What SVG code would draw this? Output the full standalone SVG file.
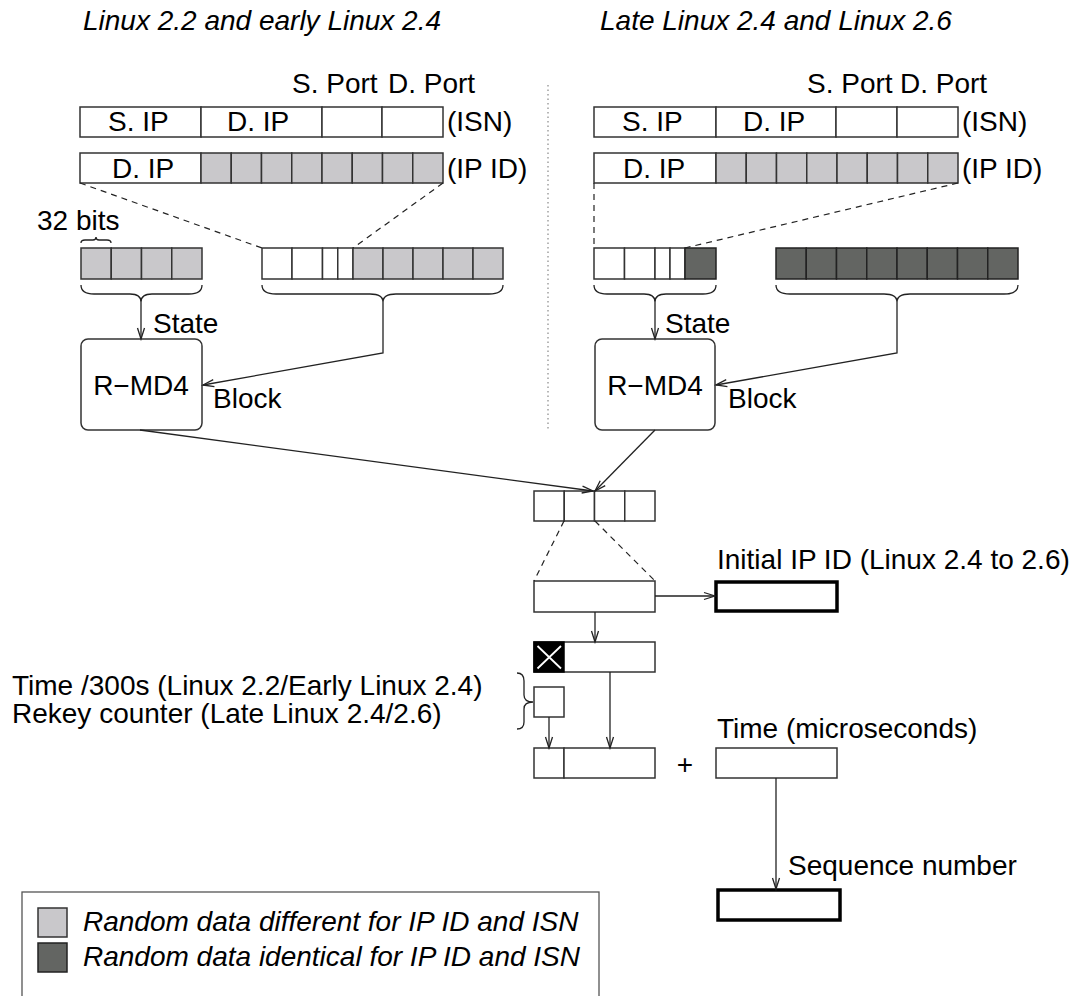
<svg xmlns="http://www.w3.org/2000/svg" width="1081" height="996" viewBox="0 0 1081 996">
  <style>
    text { font-family: "Liberation Sans", Arial, sans-serif; font-size: 28px; fill: #000; }
    .it { font-style: italic; }
    .mid { text-anchor: middle; }
    .cell { fill: #fff; stroke: #333; stroke-width: 1.5; }
    .lg { fill: #c9c8cb; stroke: #333; stroke-width: 1.5; }
    .dk { fill: #636562; stroke: #222; stroke-width: 1.5; }
    .thick { fill: #fff; stroke: #000; stroke-width: 3.5; }
    .line { fill: none; stroke: #222; stroke-width: 1.3; }
    .arrow { fill: none; stroke: #222; stroke-width: 1.3; marker-end: url(#ah); }
    .dash { fill: none; stroke: #222; stroke-width: 1.2; stroke-dasharray: 6 5; }
    .brace { fill: none; stroke: #222; stroke-width: 1.3; }
  </style>
  <defs>
    <marker id="ah" markerUnits="userSpaceOnUse" markerWidth="14" markerHeight="10" refX="12" refY="5" orient="auto">
      <path d="M1,1.5 L12,5 L1,8.5" fill="none" stroke="#222" stroke-width="1.3"/>
    </marker>
  </defs>

  <rect width="1081" height="996" fill="#fff"/>

  <!-- column titles -->
  <g id="titles">
    <text class="it" x="83" y="30">Linux 2.2 and early Linux 2.4</text>
    <text class="it" x="600" y="30">Late Linux 2.4 and Linux 2.6</text>
  </g>

  <!-- separator between the two kernel generations -->
  <line x1="548" y1="85" x2="548" y2="430" stroke="#888" stroke-width="1.2" stroke-dasharray="1.5 3"/>

  <!-- ===== left column: Linux 2.2 / early 2.4 ===== -->
  <g id="left-isn">
    <text x="292" y="93">S. Port</text>
    <text x="388" y="93">D. Port</text>
    <rect class="cell" x="80" y="107" width="121" height="30"/>
    <rect class="cell" x="201" y="107" width="121" height="30"/>
    <rect class="cell" x="322" y="107" width="60" height="30"/>
    <rect class="cell" x="382" y="107" width="61" height="30"/>
    <text x="108" y="131">S. IP</text>
    <text x="227" y="131">D. IP</text>
    <text x="447" y="131">(ISN)</text>
  </g>

  <g id="left-ipid">
    <rect class="cell" x="80" y="153" width="121" height="30"/>
    <rect class="lg" x="201" y="153" width="30.25" height="30"/>
    <rect class="lg" x="231.25" y="153" width="30.25" height="30"/>
    <rect class="lg" x="261.5" y="153" width="30.25" height="30"/>
    <rect class="lg" x="291.75" y="153" width="30.25" height="30"/>
    <rect class="lg" x="322" y="153" width="30.25" height="30"/>
    <rect class="lg" x="352.25" y="153" width="30.25" height="30"/>
    <rect class="lg" x="382.5" y="153" width="30.25" height="30"/>
    <rect class="lg" x="412.75" y="153" width="30.25" height="30"/>
    <text x="112" y="178">D. IP</text>
    <text x="447" y="178">(IP ID)</text>
  </g>

  <g id="left-state">
    <text x="37" y="230">32 bits</text>
    <path class="brace" d="M81,243 Q81,240 85,240 L93,240 Q96,240 96,237 Q96,240 99,240 L107,240 Q111,240 111,243"/>
    <rect class="lg" x="81" y="248" width="30.25" height="31"/>
    <rect class="lg" x="111.25" y="248" width="30.25" height="31"/>
    <rect class="lg" x="141.5" y="248" width="30.25" height="31"/>
    <rect class="lg" x="171.75" y="248" width="30.25" height="31"/>
    <path class="brace" d="M81,285 Q81,294 94,294 L130,294 Q141,294 141,302 Q141,294 152,294 L189,294 Q202,294 202,285"/>
    <text x="153" y="333">State</text>
  </g>

  <g id="left-block">
    <rect class="cell" x="262" y="248" width="30" height="31"/>
    <rect class="cell" x="292" y="248" width="30.5" height="31"/>
    <rect class="cell" x="322.5" y="248" width="15.25" height="31"/>
    <rect class="cell" x="337.75" y="248" width="15.25" height="31"/>
    <rect class="lg" x="353" y="248" width="30" height="31"/>
    <rect class="lg" x="383" y="248" width="30" height="31"/>
    <rect class="lg" x="413" y="248" width="30" height="31"/>
    <rect class="lg" x="443" y="248" width="30" height="31"/>
    <rect class="lg" x="473" y="248" width="30" height="31"/>
    <path class="brace" d="M262,285 Q262,294 276,294 L370,294 Q383,294 383,302 Q383,294 396,294 L489,294 Q503,294 503,285"/>
    <text x="213" y="408">Block</text>
  </g>

  <g id="left-rmd4">
    <rect class="cell" x="81" y="339" width="121" height="91" rx="7" ry="7"/>
    <text class="mid" x="141" y="395">R−MD4</text>
  </g>

  <!-- ===== right column: late 2.4 / 2.6 ===== -->
  <g id="right-isn">
    <text x="807" y="93">S. Port</text>
    <text x="900" y="93">D. Port</text>
    <rect class="cell" x="594" y="107" width="122" height="30"/>
    <rect class="cell" x="716" y="107" width="120" height="30"/>
    <rect class="cell" x="836" y="107" width="61" height="30"/>
    <rect class="cell" x="897" y="107" width="61" height="30"/>
    <text x="622" y="131">S. IP</text>
    <text x="743" y="131">D. IP</text>
    <text x="962" y="131">(ISN)</text>
  </g>

  <g id="right-ipid">
    <rect class="cell" x="594" y="153" width="122" height="30"/>
    <rect class="lg" x="716" y="153" width="30.25" height="30"/>
    <rect class="lg" x="746.25" y="153" width="30.25" height="30"/>
    <rect class="lg" x="776.5" y="153" width="30.25" height="30"/>
    <rect class="lg" x="806.75" y="153" width="30.25" height="30"/>
    <rect class="lg" x="837" y="153" width="30.25" height="30"/>
    <rect class="lg" x="867.25" y="153" width="30.25" height="30"/>
    <rect class="lg" x="897.5" y="153" width="30.25" height="30"/>
    <rect class="lg" x="927.75" y="153" width="30.25" height="30"/>
    <text x="623" y="178">D. IP</text>
    <text x="962" y="178">(IP ID)</text>
  </g>

  <g id="right-state">
    <rect class="cell" x="594" y="248" width="30.5" height="31"/>
    <rect class="cell" x="624.5" y="248" width="30.5" height="31"/>
    <rect class="cell" x="655" y="248" width="15" height="31"/>
    <rect class="cell" x="670" y="248" width="15" height="31"/>
    <rect class="dk" x="685" y="248" width="31" height="31"/>
    <path class="brace" d="M594,285 Q594,294 607,294 L644,294 Q655,294 655,302 Q655,294 666,294 L703,294 Q716,294 716,285"/>
    <text x="665" y="333">State</text>
  </g>

  <g id="right-block">
    <rect class="dk" x="776" y="248" width="30.25" height="31"/>
    <rect class="dk" x="806.25" y="248" width="30.25" height="31"/>
    <rect class="dk" x="836.5" y="248" width="30.25" height="31"/>
    <rect class="dk" x="866.75" y="248" width="30.25" height="31"/>
    <rect class="dk" x="897" y="248" width="30.25" height="31"/>
    <rect class="dk" x="927.25" y="248" width="30.25" height="31"/>
    <rect class="dk" x="957.5" y="248" width="30.25" height="31"/>
    <rect class="dk" x="987.75" y="248" width="30.25" height="31"/>
    <path class="brace" d="M776,285 Q776,294 790,294 L884,294 Q897,294 897,302 Q897,294 910,294 L1004,294 Q1018,294 1018,285"/>
    <text x="728" y="408">Block</text>
  </g>

  <g id="right-rmd4">
    <rect class="cell" x="595" y="339" width="120" height="91" rx="7" ry="7"/>
    <text class="mid" x="655" y="395">R−MD4</text>
  </g>

  <!-- ===== shared output path ===== -->
  <g id="digest">
    <rect class="cell" x="534" y="491" width="30.25" height="30"/>
    <rect class="cell" x="564.25" y="491" width="30.25" height="30"/>
    <rect class="cell" x="594.5" y="491" width="30.25" height="30"/>
    <rect class="cell" x="624.75" y="491" width="30.25" height="30"/>
  </g>

  <g id="word">
    <rect class="cell" x="534" y="581" width="121" height="31"/>
  </g>

  <g id="initial-ipid">
    <text x="717" y="569">Initial IP ID (Linux 2.4 to 2.6)</text>
    <rect class="thick" x="716" y="582" width="121" height="29"/>
  </g>

  <g id="masked-word">
    <rect class="cell" x="534" y="642" width="121" height="30"/>
    <rect x="534" y="642" width="30" height="30" fill="#000" stroke="#000" stroke-width="1.5"/>
    <path d="M537.5,646 L561,668.5 M561,646 L537.5,668.5" stroke="#fff" stroke-width="1.8"/>
  </g>

  <g id="counter">
    <text x="12" y="695">Time /300s (Linux 2.2/Early Linux 2.4)</text>
    <text x="12" y="723">Rekey counter (Late Linux 2.4/2.6)</text>
    <path class="brace" d="M517,673 Q524,673 524,681 L524,695 Q524,702 533,702 Q524,702 524,709 L524,722 Q524,729 517,729"/>
    <rect class="cell" x="534" y="687" width="30" height="30"/>
  </g>

  <g id="sum">
    <rect class="cell" x="534" y="748" width="30" height="30"/>
    <rect class="cell" x="564" y="748" width="91" height="30"/>
    <text class="mid" x="685" y="774">+</text>
  </g>

  <g id="clock">
    <text x="717" y="738">Time (microseconds)</text>
    <rect class="cell" x="716" y="748" width="121" height="30"/>
  </g>

  <g id="sequence">
    <text x="788" y="875">Sequence number</text>
    <rect class="thick" x="718" y="890" width="122" height="30"/>
  </g>

  <!-- connectors -->
  <g id="connectors">
    <line class="dash" x1="80" y1="183" x2="262" y2="248"/>
    <line class="dash" x1="443" y1="183" x2="353" y2="248"/>
    <line class="dash" x1="594" y1="183" x2="594" y2="248"/>
    <line class="dash" x1="958" y1="183" x2="685" y2="248"/>
    <line class="dash" x1="564" y1="521" x2="534" y2="581"/>
    <line class="dash" x1="595" y1="521" x2="655" y2="581"/>

    <line class="arrow" x1="141" y1="302" x2="141" y2="339"/>
    <polyline class="arrow" points="383,302 383,353 203,385"/>
    <line class="arrow" x1="655" y1="302" x2="655" y2="339"/>
    <polyline class="arrow" points="897,302 897,353 716,385"/>
    <line class="arrow" x1="140" y1="430" x2="593" y2="491"/>
    <line class="arrow" x1="655" y1="430" x2="595" y2="491"/>
    <line class="arrow" x1="655" y1="596" x2="715" y2="596"/>
    <line class="arrow" x1="595" y1="612" x2="595" y2="642"/>
    <line class="arrow" x1="549" y1="717" x2="549" y2="748"/>
    <line class="arrow" x1="610" y1="672" x2="610" y2="748"/>
    <line class="arrow" x1="776" y1="778" x2="776" y2="889"/>
  </g>

  <!-- key -->
  <g id="legend">
    <rect x="22" y="892" width="577" height="120" fill="#fff" stroke="#555" stroke-width="1.3"/>
    <rect class="lg" x="38" y="908" width="29" height="29"/>
    <text class="it" x="83" y="931">Random data different for IP ID and ISN</text>
    <rect class="dk" x="38" y="943" width="29" height="29"/>
    <text class="it" x="83" y="966">Random data identical for IP ID and ISN</text>
  </g>
</svg>
